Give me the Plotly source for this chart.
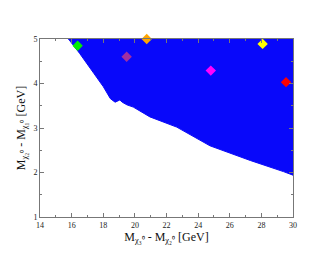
import plotly.graph_objects as go

# Boundary of the allowed (blue) region
region_x = [15.8, 16.5, 17.4, 18.0, 18.45, 18.75, 19.05, 19.2, 19.5, 19.9, 20.95, 22.65, 24.75, 27.3, 29.4, 30.0, 30.0, 15.8]
region_y = [5.0, 4.68, 4.23, 3.93, 3.66, 3.58, 3.63, 3.58, 3.52, 3.47, 3.25, 3.02, 2.6, 2.27, 2.02, 1.94, 5.0, 5.0]

# Benchmark points
pt_x = [16.38, 20.75, 19.48, 24.8, 28.08, 29.56]
pt_y = [4.85, 5.0, 4.6, 4.29, 4.89, 4.03]
pt_colors = ["#00ee00", "#ffa500", "#a030a0", "#ff00ff", "#ffff00", "#ff0000"]

x_ticks = [14, 16, 18, 20, 22, 24, 26, 28, 30]
y_ticks = [1, 2, 3, 4, 5]

fig = go.Figure()
fig.add_trace(go.Scatter(x=region_x, y=region_y, mode="lines", fill="toself",
                         fillcolor="#0808fa", line=dict(color="#0808fa", width=1),
                         hoverinfo="skip", showlegend=False))
fig.add_trace(go.Scatter(x=pt_x, y=pt_y, mode="markers", cliponaxis=False,
                         marker=dict(symbol="diamond", size=8, color=pt_colors, line=dict(width=0)),
                         showlegend=False))

font = "Liberation Serif, Times New Roman, serif"
axis_common = dict(showline=True, linecolor="#777", linewidth=1, mirror="allticks",
                   ticks="inside", ticklen=4, tickcolor="#777", showgrid=False, zeroline=False,
                   tickfont=dict(family=font, size=8, color="#222"))
fig.update_xaxes(range=[14, 30], tickvals=x_ticks, ticktext=[str(v) for v in x_ticks],
                 minor=dict(ticks="inside", dtick=1, ticklen=2, tickcolor="#777"),
                 title=dict(text="M<sub>χ₃⁰</sub> - M<sub>χ₂⁰</sub> [GeV]", font=dict(family=font, size=12, color="#111"), standoff=2),
                 **axis_common)
fig.update_yaxes(range=[1, 5], tickvals=y_ticks, ticktext=[str(v) for v in y_ticks],
                 minor=dict(ticks="inside", dtick=0.5, ticklen=2, tickcolor="#777"),
                 title=dict(text="M<sub>χ₂⁰</sub> - M<sub>χ₁⁰</sub> [GeV]", font=dict(family=font, size=12, color="#111"), standoff=5),
                 **axis_common)
fig.update_layout(width=322, height=247, margin=dict(l=32, r=37, t=31, b=38),
                  plot_bgcolor="white", paper_bgcolor="white")
fig.write_html("out.html")
